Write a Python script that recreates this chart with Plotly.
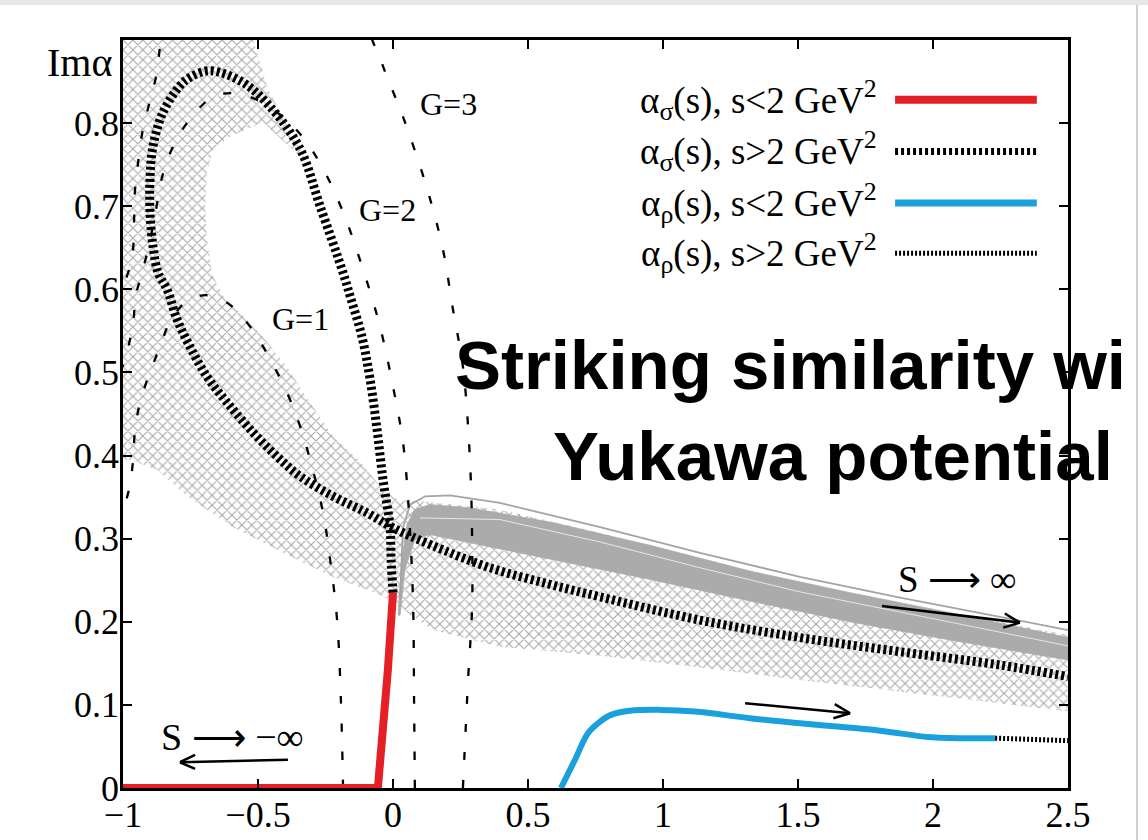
import plotly.graph_objects as go

# ---- Regge trajectories: Re(alpha) vs Im(alpha) ----
# sigma, s < 2 GeV^2
sig_lo_re = [-1.0, -0.056, -0.019, 0.0]
sig_lo_im = [0.0, 0.0, 0.142, 0.235]

# sigma, s > 2 GeV^2
sig_hi_re = [0.0, -0.007, -0.011, -0.037, -0.059, -0.085, -0.115, -0.159, -0.185, -0.270,
             -0.344, -0.456, -0.556, -0.678, -0.752, -0.789, -0.852, -0.889, -0.900, -0.900,
             -0.889, -0.870, -0.837, -0.800, -0.752, -0.689, -0.615, -0.519, -0.430, -0.344,
             -0.222, -0.096, 0.0, 0.137, 0.359, 0.581, 0.767, 1.137, 1.507, 1.878, 2.248, 2.5]
sig_hi_im = [0.235, 0.275, 0.314, 0.371, 0.431, 0.492, 0.543, 0.592, 0.620, 0.700,
             0.769, 0.820, 0.849, 0.863, 0.855, 0.845, 0.813, 0.772, 0.733, 0.693,
             0.652, 0.620, 0.600, 0.564, 0.531, 0.495, 0.464, 0.428, 0.399, 0.375,
             0.351, 0.331, 0.313, 0.293, 0.265, 0.245, 0.230, 0.202, 0.181, 0.164, 0.148, 0.134]

# rho, s < 2 GeV^2
rho_lo_re = [0.622, 0.674, 0.722, 0.767, 0.807, 0.878, 0.989, 1.119, 1.322, 1.570, 1.804, 1.996, 2.230]
rho_lo_im = [0.0, 0.034, 0.066, 0.080, 0.088, 0.093, 0.094, 0.092, 0.084, 0.076, 0.069, 0.061, 0.060]

# rho, s > 2 GeV^2
rho_hi_re = [2.230, 2.36, 2.5]
rho_hi_im = [0.060, 0.059, 0.057]

# Yukawa-potential trajectories for couplings G = 1, 2, 3
g1_re = [-0.185, -0.193, -0.207, -0.233, -0.259, -0.307, -0.344, -0.393, -0.481, -0.541,
         -0.615, -0.696, -0.770, -0.826, -0.863, -0.900, -0.937, -0.956, -0.963, -0.978, -1.011]
g1_im = [0.0, 0.106, 0.202, 0.275, 0.331, 0.395, 0.435, 0.476, 0.531, 0.560,
         0.584, 0.593, 0.584, 0.561, 0.531, 0.500, 0.464, 0.428, 0.393, 0.359, 0.323]

g2_re = [0.081, 0.078, 0.074, 0.056, 0.037, 0.0, -0.048, -0.111, -0.185, -0.259,
         -0.344, -0.456, -0.567, -0.659, -0.715, -0.759, -0.807, -0.852, -0.881, -0.907,
         -0.937, -0.956, -0.959, -0.970, -0.993, -1.02]
g2_im = [0.0, 0.106, 0.227, 0.347, 0.416, 0.483, 0.555, 0.624, 0.693, 0.745,
         0.787, 0.819, 0.835, 0.833, 0.819, 0.802, 0.777, 0.739, 0.690, 0.648,
         0.612, 0.588, 0.570, 0.546, 0.516, 0.492]

g3_re = [0.259, 0.278, 0.293, 0.293, 0.289, 0.278, 0.259, 0.222, 0.185, 0.130,
         0.063, 0.026, -0.019, -0.059, -0.122, -0.344, -0.604, -0.789, -0.856, -0.874,
         -0.900, -0.926, -0.944, -0.956, -0.959, -0.963, -0.981, -1.02]
g3_im = [0.0, 0.130, 0.218, 0.299, 0.363, 0.435, 0.507, 0.576, 0.648, 0.717,
         0.784, 0.817, 0.853, 0.886, 0.925, 0.973, 0.973, 0.943, 0.901, 0.861,
         0.827, 0.793, 0.753, 0.717, 0.682, 0.648, 0.620, 0.590]

# uncertainty band of the sigma trajectory (closed outline)
band_re = [-1.0, -1.0, -0.519, -0.463, -0.374, -0.315, -0.381, -0.481, -0.604, -0.667,
           -0.689, -0.696, -0.689, -0.670, -0.622, -0.548, -0.474, -0.393, -0.326, -0.222,
           -0.122, -0.037, 0.015, 0.100, 0.396, 0.767, 1.137, 1.507, 1.878, 2.248,
           2.5, 2.5, 2.248, 1.878, 1.507, 1.137, 0.767, 0.396, 0.148, -0.037,
           -0.222, -0.407, -0.593, -0.763, -0.874, -0.974, -1.0]
band_im = [0.395, 0.901, 0.901, 0.841, 0.787, 0.751, 0.771, 0.801, 0.784, 0.769,
           0.741, 0.700, 0.660, 0.618, 0.588, 0.566, 0.540, 0.507, 0.473, 0.423,
           0.393, 0.359, 0.347, 0.345, 0.335, 0.307, 0.275, 0.245, 0.220, 0.200,
           0.184, 0.092, 0.102, 0.116, 0.130, 0.145, 0.159, 0.170, 0.190, 0.231,
           0.254, 0.283, 0.314, 0.351, 0.383, 0.395, 0.395]

# family of sigma trajectories from the dispersive fits (grey bundle)
grey_re = [0.019, 0.033, 0.052, 0.081, 0.137, 0.285, 0.581, 0.952, 1.322, 1.693, 2.063, 2.5,
           2.5, 2.063, 1.693, 1.322, 0.952, 0.581, 0.285, 0.137, 0.081, 0.044, 0.026, 0.019]
grey_im = [0.208, 0.275, 0.317, 0.335, 0.341, 0.337, 0.320, 0.292, 0.261, 0.235, 0.211, 0.181,
           0.154, 0.178, 0.200, 0.225, 0.251, 0.275, 0.295, 0.305, 0.299, 0.263, 0.208, 0.208]

grey_top_re = [0.026, 0.037, 0.063, 0.119, 0.211, 0.396, 0.767, 1.137, 1.507, 1.878, 2.248, 2.5]
grey_top_im = [0.227, 0.313, 0.341, 0.351, 0.352, 0.343, 0.314, 0.283, 0.254, 0.229, 0.206, 0.190]

grey_mid_re = [0.100, 0.396, 0.767, 1.137, 1.507, 1.878, 2.248, 2.5]
grey_mid_im = [0.325, 0.323, 0.296, 0.265, 0.236, 0.212, 0.188, 0.171]

x_ticks = [-1, -0.5, 0, 0.5, 1, 1.5, 2, 2.5]
x_tick_text = ["\u22121", "\u22120.5", "0", "0.5", "1", "1.5", "2", "2.5"]
y_ticks = [0, 0.1, 0.2, 0.3, 0.4, 0.5, 0.6, 0.7, 0.8]
y_tick_text = ["0", "0.1", "0.2", "0.3", "0.4", "0.5", "0.6", "0.7", "0.8"]

legend_labels = [
    "\u03b1<sub>\u03c3</sub>(s), s&lt;2 GeV<sup>2</sup>",
    "\u03b1<sub>\u03c3</sub>(s), s&gt;2 GeV<sup>2</sup>",
    "\u03b1<sub>\u03c1</sub>(s), s&lt;2 GeV<sup>2</sup>",
    "\u03b1<sub>\u03c1</sub>(s), s&gt;2 GeV<sup>2</sup>",
]

RED = "#e41f26"
BLUE = "#1aa1dd"
SERIF = "Liberation Serif"
LADDER = "3px,3px"

fig = go.Figure()

fig.add_trace(go.Scatter(
    x=band_re, y=band_im, mode="lines", fill="toself", line=dict(width=0),
    fillcolor="rgba(255,255,255,0)",
    fillpattern=dict(shape="x", fgcolor="#a9a9a9", bgcolor="rgba(255,255,255,0)",
                     size=7, solidity=0.3, fillmode="replace"),
    hoverinfo="skip"))
fig.add_trace(go.Scatter(x=grey_re, y=grey_im, mode="lines", fill="toself",
                         fillcolor="#ababab", line=dict(width=0.8, color="#ababab")))
fig.add_trace(go.Scatter(x=grey_mid_re, y=grey_mid_im, mode="lines",
                         line=dict(width=1, color="rgba(255,255,255,0.7)")))
fig.add_trace(go.Scatter(x=grey_top_re, y=grey_top_im, mode="lines",
                         line=dict(width=1.8, color="#a4a4a4")))

for gx, gy in ((g1_re, g1_im), (g2_re, g2_im), (g3_re, g3_im)):
    fig.add_trace(go.Scatter(x=gx, y=gy, mode="lines", line_shape="spline",
                             line=dict(width=2.3, color="black", dash="8px,20px")))

fig.add_trace(go.Scatter(x=sig_hi_re, y=sig_hi_im, mode="lines", line_shape="spline",
                         line=dict(width=9, color="black", dash=LADDER)))
fig.add_trace(go.Scatter(x=sig_lo_re, y=sig_lo_im, mode="lines",
                         line=dict(width=8, color=RED)))
fig.add_trace(go.Scatter(x=rho_lo_re, y=rho_lo_im, mode="lines", line_shape="spline",
                         line=dict(width=6, color=BLUE)))
fig.add_trace(go.Scatter(x=rho_hi_re, y=rho_hi_im, mode="lines",
                         line=dict(width=5, color="black", dash="2px,2px")))

# ---- arrows showing the direction of s ----
arrows = [
    # shaft start, tip, two barbs
    ((-0.389, 0.034), (-0.789, 0.031), (-0.733, 0.040), (-0.733, 0.023)),
    ((1.811, 0.219), (2.322, 0.199), (2.260, 0.193), (2.266, 0.210)),
    ((1.304, 0.102), (1.693, 0.090), (1.631, 0.084), (1.636, 0.101)),
]
shapes = []
for (x0, y0), (x1, y1), (ax1, ay1), (ax2, ay2) in arrows:
    for sx, sy in ((x0, y0), (ax1, ay1), (ax2, ay2)):
        shapes.append(dict(type="line", xref="x", yref="y", x0=sx, y0=sy, x1=x1, y1=y1,
                           line=dict(color="black", width=2.5)))

# ---- key, drawn to the right of its labels ----
key_y = [0.920, 0.851, 0.782, 0.715]
key_styles = [
    dict(color=RED, width=8),
    dict(color="black", width=7, dash=LADDER),
    dict(color=BLUE, width=7),
    dict(color="black", width=5, dash="2px,2px"),
]
annotations = []
for lbl, ky, st in zip(legend_labels, key_y, key_styles):
    annotations.append(dict(xref="paper", yref="paper", x=0.800, y=ky, text=lbl,
                            xanchor="right", yanchor="middle", showarrow=False,
                            font=dict(family=SERIF, size=37, color="black")))
    shapes.append(dict(type="line", xref="paper", yref="paper", x0=0.817, x1=0.967,
                       y0=ky, y1=ky, line=st))

# page frame pieces
shapes.append(dict(type="rect", xref="paper", yref="paper", x0=-0.14, x1=1.09,
                   y0=1.0468, y1=1.06, line=dict(width=0), fillcolor="#e6e6e6", layer="below"))
shapes.append(dict(type="line", xref="paper", yref="paper", x0=1.073, x1=1.073,
                   y0=-0.08, y1=1.047, line=dict(color="#cfcfcf", width=2)))

annotations += [
    dict(xref="paper", yref="paper", x=-0.010, y=0.970, xanchor="right", yanchor="middle",
         text="Im\u03b1", showarrow=False,
         font=dict(family=SERIF, size=40, color="black")),
    dict(x=-0.344, y=0.564, text="G=1", showarrow=False,
         font=dict(family=SERIF, size=32, color="black")),
    dict(x=-0.019, y=0.696, text="G=2", showarrow=False,
         font=dict(family=SERIF, size=32, color="black")),
    dict(x=0.204, y=0.823, text="G=3", showarrow=False,
         font=dict(family=SERIF, size=32, color="black")),
    dict(x=-0.596, y=0.061, text="S \u27f6 \u2212\u221e", showarrow=False,
         font=dict(family=SERIF, size=38, color="black")),
    dict(x=2.089, y=0.251, text="S \u27f6 \u221e", showarrow=False,
         font=dict(family=SERIF, size=37, color="black")),
    dict(xref="paper", yref="paper", x=0.349, y=0.565, xanchor="left", yanchor="middle",
         text="<b>Striking similarity wi</b>", showarrow=False,
         font=dict(family="Liberation Sans", size=69, color="black")),
    dict(xref="paper", yref="paper", x=0.453, y=0.443, xanchor="left", yanchor="middle",
         text="<b>Yukawa potential</b>", showarrow=False,
         font=dict(family="Liberation Sans", size=69, color="black")),
]

axis_common = dict(showgrid=False, zeroline=False, showline=True, mirror="ticks",
                   linecolor="black", linewidth=2.5, ticks="inside", ticklen=9,
                   tickwidth=2, tickcolor="black", automargin=False,
                   tickfont=dict(family=SERIF, size=36, color="black"))

fig.update_layout(
    width=1148, height=840,
    margin=dict(l=123, r=80, t=40, b=52),
    paper_bgcolor="white", plot_bgcolor="white",
    showlegend=False,
    xaxis=dict(range=[-1, 2.5], tickvals=x_ticks, ticktext=x_tick_text,
               ticklabelstandoff=-7, **axis_common),
    yaxis=dict(range=[0, 0.9], tickvals=y_ticks, ticktext=y_tick_text,
               ticklabelstandoff=-6, **axis_common),
    shapes=shapes,
    annotations=annotations,
)

fig.write_html("out.html")
